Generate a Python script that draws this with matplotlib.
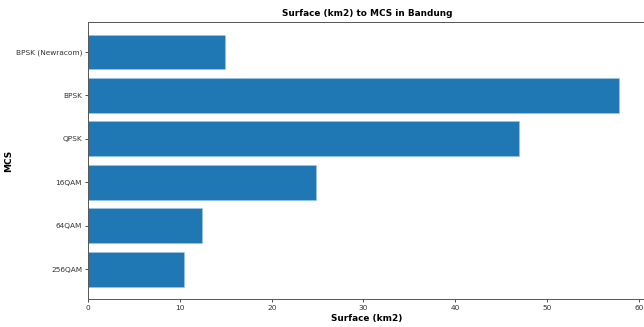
import matplotlib
matplotlib.use("Agg")
import matplotlib.pyplot as plt

# MCS schemes (bottom to top) and covered surface in km2
mcs = ["256QAM", "64QAM", "16QAM", "QPSK", "BPSK", "BPSK (Newracom)"]
surface = [10.45, 12.35, 24.8, 47.0, 57.9, 14.85]

fig = plt.figure(figsize=(6.44, 3.27), dpi=100)
# axes run slightly past the right edge of the canvas
ax = fig.add_axes([0.1371, 0.085, 0.866, 0.848])

ax.barh(mcs, surface, height=0.8, color="#1f77b4", edgecolor="#9ec5e6", linewidth=0.4)

ax.set_title("Surface (km2) to MCS in Bandung", fontsize=6.4, fontweight="bold", pad=4)
ax.set_xlabel("Surface (km2)", fontsize=6.4, fontweight="bold", labelpad=2)
ax.set_ylabel("MCS", fontsize=6.4, fontweight="bold", labelpad=8)
ax.yaxis.set_label_coords(-0.135, 0.5)
ax.tick_params(labelsize=5.3, length=2.5, width=0.6, pad=2, colors="#333333")
for side in ax.spines.values():
    side.set_color("#555555")
    side.set_linewidth(0.7)

fig.savefig("out.png", dpi=100)
